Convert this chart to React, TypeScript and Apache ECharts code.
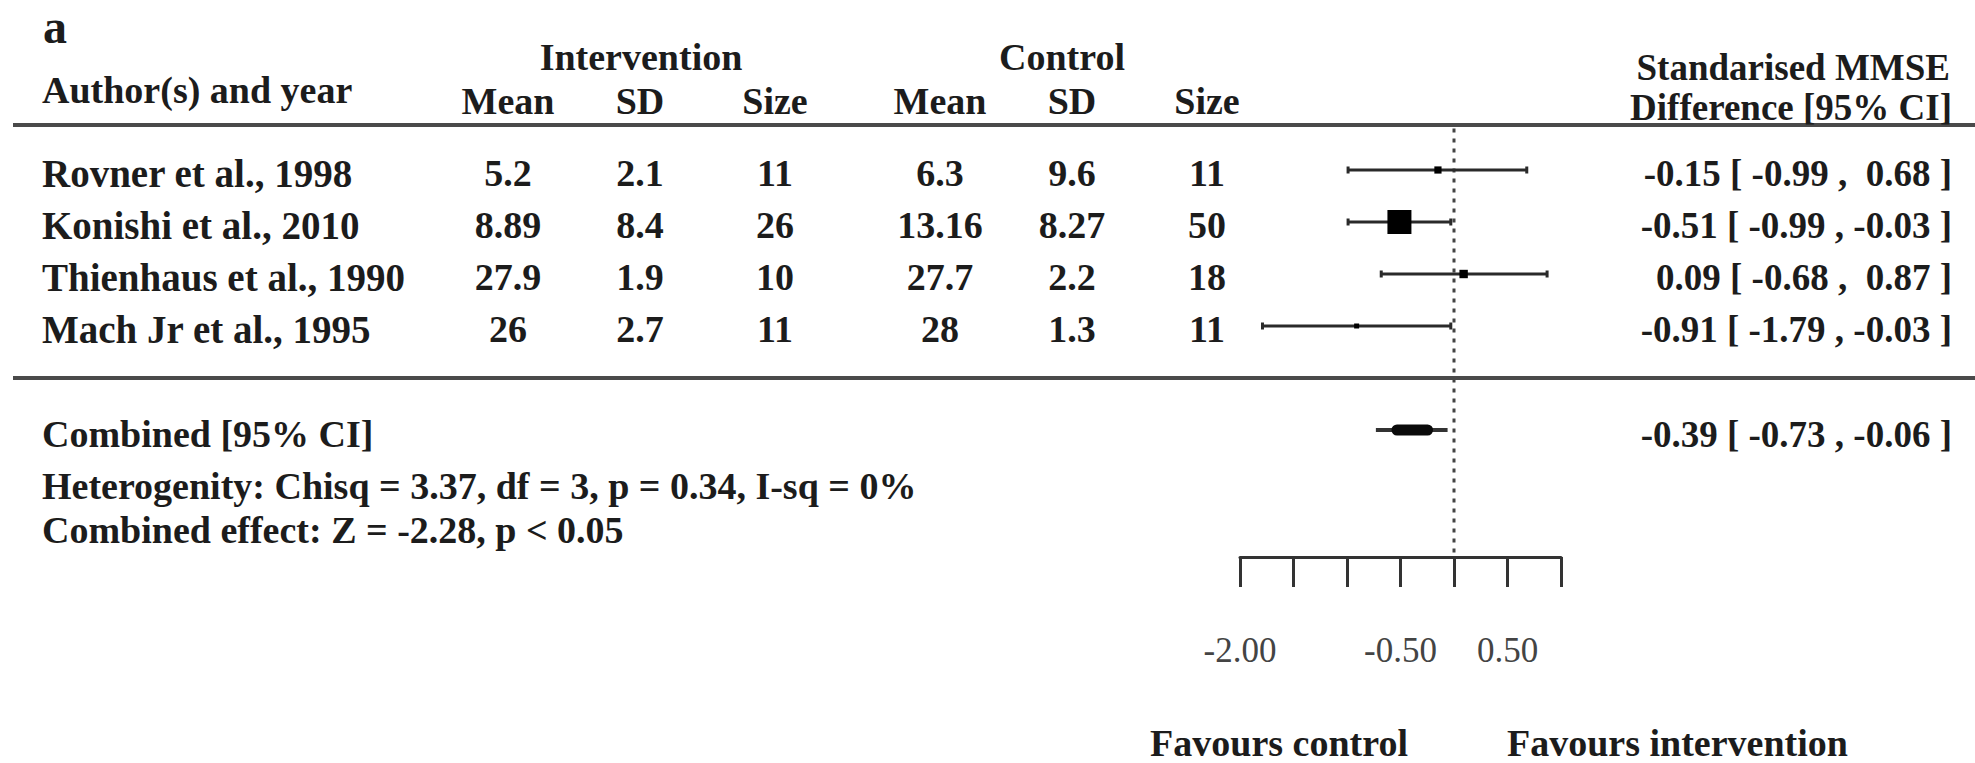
import React, { useEffect, useRef } from "react";
import * as echarts from "echarts";

// ---- data ----
const studies = ["Rovner et al., 1998", "Konishi et al., 2010", "Thienhaus et al., 1990", "Mach Jr et al., 1995"];
const intMean = [5.2, 8.89, 27.9, 26];
const intSD = [2.1, 8.4, 1.9, 2.7];
const intN = [11, 26, 10, 11];
const ctlMean = [6.3, 13.16, 27.7, 28];
const ctlSD = [9.6, 8.27, 2.2, 1.3];
const ctlN = [11, 50, 18, 11];
const smd = [-0.15, -0.51, 0.09, -0.91];
const ciLow = [-0.99, -0.99, -0.68, -1.79];
const ciHigh = [0.68, -0.03, 0.87, -0.03];
const relWeight = [0.3, 1, 0.35, 0.2];
const combinedEst = -0.39;
const combinedLow = -0.73;
const combinedHigh = -0.06;
const hetStats = { chisq: "3.37", df: "3", p: "0.34", isq: "0%" };
const effectStats = { z: "-2.28", p: "< 0.05" };
const labelledTicks = [-2, -0.5, 0.5];

const FONT = "'Liberation Serif', 'Times New Roman', serif";
const INK = "#1c1c1c";
const NB = "\u00A0";

const fmt = (v: number, pad: boolean) => (pad && v >= 0 ? NB : "") + v.toFixed(2);
const ciText = (e: number, l: number, h: number) =>
  `${fmt(e, false)}${NB}[${NB}${fmt(l, true)}${NB},${NB}${fmt(h, true)}${NB}]`;

export default function App() {
  const ref = useRef<HTMLDivElement>(null);
  useEffect(() => {
    document.body.style.margin = "0";
    const chart = echarts.init(ref.current!, null, { renderer: "svg" });
    const combinedRow = studies.length + 1;
    chart.setOption({
      animation: false,
      backgroundColor: "#ffffff",
      grid: { left: 1240, top: 118, width: 321, height: 439 },
      xAxis: {
        type: "value",
        min: -2,
        max: 1,
        interval: 0.5,
        position: "bottom",
        axisLine: { show: true, onZero: false, lineStyle: { color: "#333", width: 3 } },
        axisTick: { show: true, inside: false, length: 30, lineStyle: { color: "#333", width: 3 } },
        splitLine: { show: false },
        axisLabel: {
          margin: 76,
          fontFamily: FONT,
          fontSize: 35,
          color: "#444",
          showMinLabel: true,
          showMaxLabel: true,
          formatter: (v: number) => (labelledTicks.some((t) => Math.abs(t - v) < 1e-9) ? v.toFixed(2) : ""),
        },
      },
      yAxis: { type: "value", inverse: true, min: -1, max: 7.4423, show: false },
      series: [
        {
          type: "line",
          data: [[0, -0.8], [0, 7.4423]],
          symbol: "none",
          lineStyle: { color: "#444", width: 3, type: [4, 6] },
          z: 1,
        },
        {
          type: "custom",
          data: studies.map((_, i) => [i, smd[i], ciLow[i], ciHigh[i], relWeight[i]]),
          encode: { x: [1, 2, 3], y: 0 },
          z: 3,
          renderItem: (params: any, api: any) => {
            const row = api.value(0);
            const pLo = api.coord([api.value(2), row]);
            const pHi = api.coord([api.value(3), row]);
            const pE = api.coord([api.value(1), row]);
            const s = Math.max(5, 24 * api.value(4));
            const st = { stroke: "#2a2a2a", lineWidth: 3 };
            return {
              type: "group",
              children: [
                { type: "line", shape: { x1: pLo[0], y1: pLo[1], x2: pHi[0], y2: pHi[1] }, style: st },
                { type: "line", shape: { x1: pLo[0], y1: pLo[1] - 3.5, x2: pLo[0], y2: pLo[1] + 3.5 }, style: st },
                { type: "line", shape: { x1: pHi[0], y1: pHi[1] - 3.5, x2: pHi[0], y2: pHi[1] + 3.5 }, style: st },
                { type: "rect", shape: { x: pE[0] - s / 2, y: pE[1] - s / 2, width: s, height: s }, style: { fill: "#000" } },
              ],
            };
          },
        },
        {
          type: "custom",
          data: [[combinedRow, combinedEst, combinedLow, combinedHigh]],
          encode: { x: [1, 2, 3], y: 0 },
          z: 3,
          renderItem: (params: any, api: any) => {
            const row = api.value(0);
            const est = api.value(1);
            const lo = api.value(2);
            const hi = api.value(3);
            const pLo = api.coord([lo, row]);
            const pHi = api.coord([hi, row]);
            const half = ((hi - lo) / 2) * 0.58;
            const pA = api.coord([est - half, row]);
            const pB = api.coord([est + half, row]);
            return {
              type: "group",
              children: [
                {
                  type: "line",
                  shape: { x1: pLo[0], y1: pLo[1], x2: pHi[0], y2: pHi[1] },
                  style: { stroke: "#333", lineWidth: 4 },
                },
                {
                  type: "rect",
                  shape: { x: pA[0], y: pA[1] - 5.5, width: pB[0] - pA[0], height: 11, r: 5.5 },
                  style: { fill: "#0a0a0a" },
                },
              ],
            };
          },
        },
      ],
    });

    const rowY = (i: number) => (chart.convertToPixel({ gridIndex: 0 }, [0, i]) as number[])[1];
    const txt = (text: string, x: number, y: number, align = "left", opts: any = {}) => ({
      type: "text",
      x,
      y,
      z: 10,
      style: {
        text,
        fontFamily: FONT,
        fontSize: 38,
        fontWeight: "bold",
        fill: INK,
        align,
        verticalAlign: "middle",
        ...opts,
      },
    });
    const hline = (y: number) => ({
      type: "line",
      z: 5,
      shape: { x1: 13, y1: y, x2: 1975, y2: y },
      style: { stroke: "#4a4a4a", lineWidth: 4 },
    });

    const cols = [508, 640, 775, 940, 1072, 1207];
    const g: any[] = [
      txt("a", 43, 26, "left", { fontSize: 48 }),
      txt("Intervention", 641, 57, "center"),
      txt("Control", 1062, 57, "center"),
      txt("Author(s) and year", 42, 90),
      txt("Mean", cols[0], 101, "center"),
      txt("SD", cols[1], 101, "center"),
      txt("Size", cols[2], 101, "center"),
      txt("Mean", cols[3], 101, "center"),
      txt("SD", cols[4], 101, "center"),
      txt("Size", cols[5], 101, "center"),
      txt("Standarised MMSE", 1950, 67, "right", { fontSize: 37 }),
      txt("Difference [95% CI]", 1952, 107, "right", { fontSize: 37 }),
      hline(125),
      hline(378),
    ];
    studies.forEach((name, i) => {
      const y = rowY(i) + 3;
      g.push(txt(name, 42, y, "left", { fontSize: 39 }));
      g.push(txt(String(intMean[i]), cols[0], y, "center"));
      g.push(txt(String(intSD[i]), cols[1], y, "center"));
      g.push(txt(String(intN[i]), cols[2], y, "center"));
      g.push(txt(String(ctlMean[i]), cols[3], y, "center"));
      g.push(txt(String(ctlSD[i]), cols[4], y, "center"));
      g.push(txt(String(ctlN[i]), cols[5], y, "center"));
      g.push(txt(ciText(smd[i], ciLow[i], ciHigh[i]), 1952, y, "right", { fontSize: 37 }));
    });
    const cy = rowY(combinedRow) + 4;
    g.push(txt("Combined [95% CI]", 42, cy));
    g.push(txt(ciText(combinedEst, combinedLow, combinedHigh), 1952, cy, "right", { fontSize: 37 }));
    g.push(
      txt(
        `Heterogenity: Chisq = ${hetStats.chisq}, df = ${hetStats.df}, p = ${hetStats.p}, I-sq = ${hetStats.isq}`,
        42,
        486
      )
    );
    g.push(txt(`Combined effect: Z = ${effectStats.z}, p ${effectStats.p}`, 42, 530));
    g.push(txt("Favours control", 1408, 743, "right"));
    g.push(txt("Favours intervention", 1507, 743, "left"));

    chart.setOption({ graphic: g });
    return () => chart.dispose();
  }, []);
  return <div ref={ref} style={{ width: 1975, height: 763, background: "#fff" }} />;
}
